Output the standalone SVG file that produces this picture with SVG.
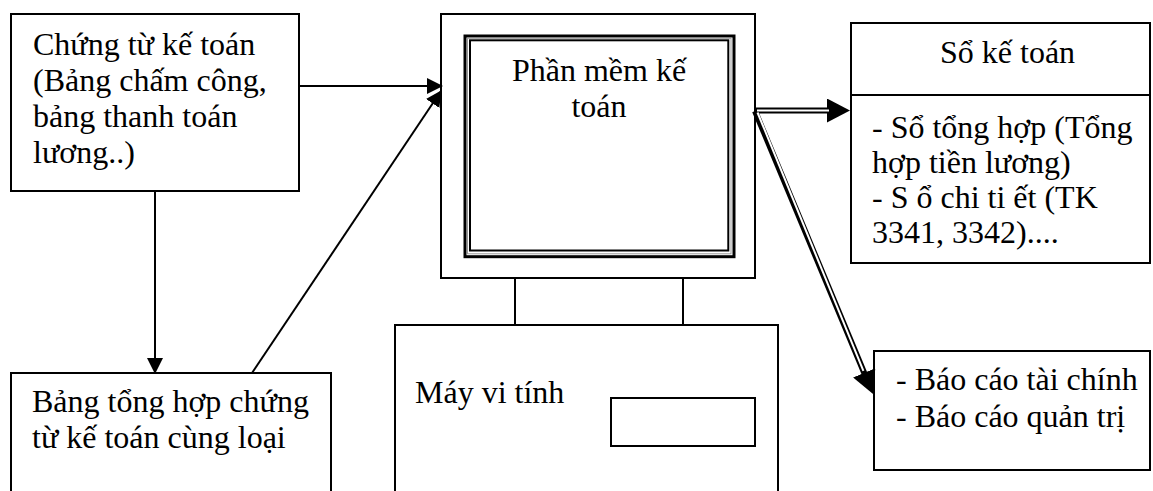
<svg xmlns="http://www.w3.org/2000/svg" width="1153" height="491" viewBox="0 0 1153 491">
  <style>
    .box { fill: #fff; stroke: #000; stroke-width: 2; }
    .open { fill: none; stroke: #000; stroke-width: 2; }
    .txt { font-family: "Liberation Serif", "Times New Roman", serif; font-size: 32px; fill: #000; }
    .wire { fill: none; stroke: #000; stroke-width: 2; }
    .dbl-outer { fill: none; stroke: #000; stroke-width: 6; }
    .dbl-inner { fill: none; stroke: #fff; stroke-width: 2; }
  </style>
  <defs>
    <marker id="arrow" markerUnits="userSpaceOnUse" markerWidth="16" markerHeight="16" refX="15" refY="8" orient="auto">
      <path d="M0,0 L16,8 L0,16 z" fill="#000"/>
    </marker>
    <marker id="arrow-big" markerUnits="userSpaceOnUse" markerWidth="23" markerHeight="24" refX="13" refY="12" orient="auto">
      <path d="M0,0 L23,12 L0,24 z" fill="#000"/>
    </marker>
  </defs>

  <rect width="1153" height="491" fill="#fff"/>

  <!-- source documents -->
  <g id="chung-tu">
    <rect class="box" x="11" y="14" width="288" height="177"/>
    <text class="txt" x="33" y="55">Chứng từ kế toán</text>
    <text class="txt" x="33" y="91">(Bảng chấm công,</text>
    <text class="txt" x="33" y="127">bảng thanh toán</text>
    <text class="txt" x="33" y="163">lương..)</text>
  </g>

  <!-- summary of documents -->
  <g id="bang-tong-hop">
    <path class="open" d="M11,492 V373 H331 V492"/>
    <text class="txt" x="32" y="412">Bảng tổng hợp chứng</text>
    <text class="txt" x="32" y="448">từ kế toán cùng loại</text>
  </g>

  <!-- monitor with software -->
  <g id="man-hinh">
    <rect class="box" x="441" y="14" width="314" height="264"/>
    <rect x="465" y="36" width="269" height="220.7" fill="none" stroke="#000" stroke-width="3"/>
    <rect x="467.5" y="38.3" width="263.5" height="215.5" fill="none" stroke="#999" stroke-width="1"/>
    <rect x="470" y="40.3" width="258.3" height="210.2" fill="none" stroke="#000" stroke-width="2"/>
    <text class="txt" x="599" y="81" text-anchor="middle">Phần mềm kế</text>
    <text class="txt" x="599" y="117" text-anchor="middle">toán</text>
    <line class="wire" x1="515" y1="278" x2="515" y2="325"/>
    <line class="wire" x1="683" y1="278" x2="683" y2="325"/>
  </g>

  <!-- computer case -->
  <g id="may-vi-tinh">
    <path class="open" d="M395,492 V325 H778 V492"/>
    <text class="txt" x="415" y="403">Máy vi tính</text>
    <rect class="box" x="611" y="398" width="144" height="48"/>
  </g>

  <!-- ledgers -->
  <g id="so-ke-toan">
    <rect class="box" x="851" y="23" width="299" height="240"/>
    <line class="wire" x1="851" y1="95" x2="1150" y2="95"/>
    <text class="txt" x="940" y="63">Sổ kế toán</text>
    <text class="txt" x="872" y="138">- Sổ tổng hợp (Tổng</text>
    <text class="txt" x="872" y="173">hợp tiền lương)</text>
    <text class="txt" x="872" y="208">- S ổ chi ti ết (TK</text>
    <text class="txt" x="872" y="243">3341, 3342)....</text>
  </g>

  <!-- reports -->
  <g id="bao-cao">
    <rect class="box" x="874" y="351" width="276" height="119"/>
    <text class="txt" x="896" y="390">- Báo cáo tài chính</text>
    <text class="txt" x="896" y="427">- Báo cáo quản trị</text>
  </g>

  <!-- connectors -->
  <g id="connectors">
    <line class="wire" x1="155" y1="191" x2="155" y2="373" marker-end="url(#arrow)"/>
    <line class="wire" x1="299" y1="86" x2="442" y2="86" marker-end="url(#arrow)"/>
    <line class="wire" x1="252" y1="373" x2="441" y2="91" marker-end="url(#arrow)"/>

    <path class="dbl-outer" d="M755,110.5 H840" marker-end="url(#arrow-big)"/>
    <path class="dbl-outer" d="M755,111 L869.2,384.8" marker-end="url(#arrow-big)"/>
    <path class="dbl-inner" d="M757,110.5 H829"/>
    <path class="dbl-inner" d="M757.5,112.5 L863.4,370.9"/>
  </g>
</svg>
